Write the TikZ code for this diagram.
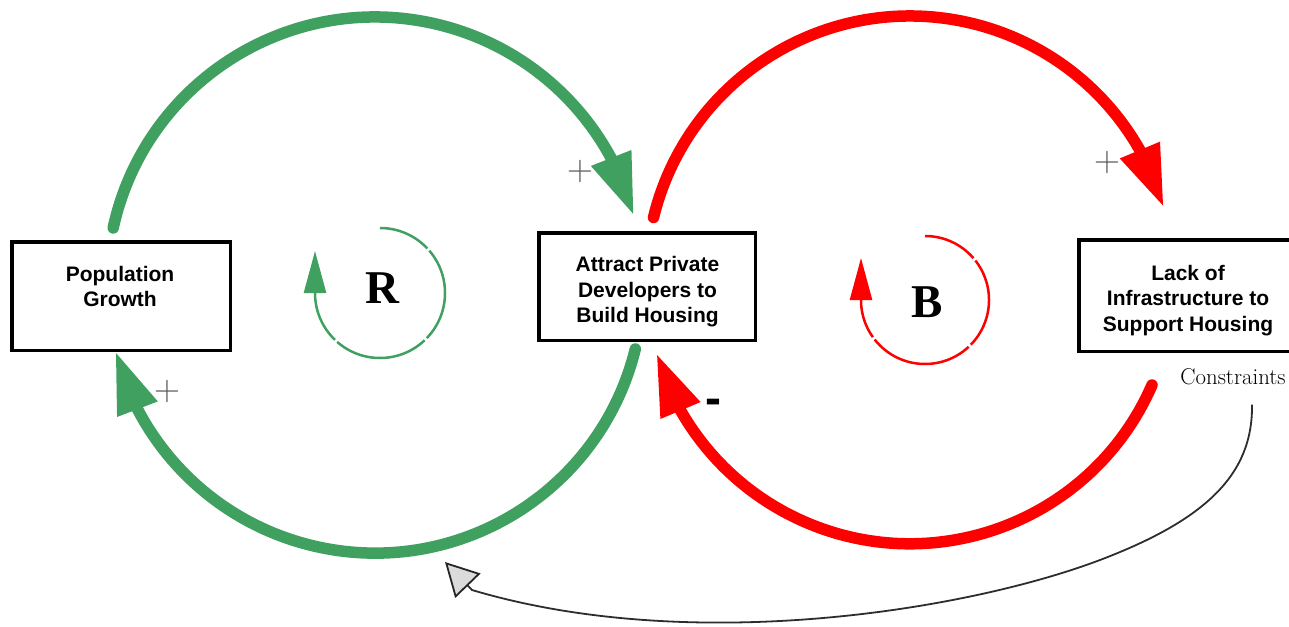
\documentclass[tikz,border=0pt]{standalone}
\usepackage{fontspec}
\newfontfamily\labelfont{Liberation Sans}
\newfontfamily\loopfont{Liberation Serif}
\usetikzlibrary{arrows.meta,bending,calc}

\definecolor{loopgreen}{RGB}{64,160,96}
\definecolor{loopred}{RGB}{255,0,0}
\definecolor{linkgray}{RGB}{45,45,45}

\tikzset{
  varbox/.style={draw=black, line width=3.5pt, fill=white, inner sep=0pt},
  varlabel/.style={font=\labelfont\bfseries\fontsize{21}{25.5}\selectfont, align=center, inner sep=0pt},
  bigarc/.style={line width=11.5pt, line cap=round, -{Triangle[length=62pt,width=40pt,flex]}},
  loopmark/.style={line width=2.5pt, -{Triangle[length=42pt,width=22pt,flex]}},
  loopsym/.style={font=\loopfont\bfseries\fontsize{47}{47}\selectfont, inner sep=0pt, anchor=base},
  polarity/.style={font=\fontsize{36}{36}\selectfont, text=black!65, inner sep=0pt},
  negpolarity/.style={font=\labelfont\bfseries\fontsize{48}{48}\selectfont, inner sep=0pt, anchor=base},
  linknote/.style={font=\fontsize{22.8}{26}\selectfont, inner sep=0pt, anchor=base, text=black},
  constraintlink/.style={draw=linkgray, line width=1.8pt,
    -{Triangle[length=33pt,width=35pt,fill=black!14,color=black!85]}}
}

\begin{document}
\begin{tikzpicture}[x=1pt,y=1pt]
\useasboundingbox (0,0) rectangle (1289,-626);

% variables
\node[varbox, minimum width=218.5pt, minimum height=108.5pt] (pop) at (121,-296) {};
\node[varbox, minimum width=216.5pt, minimum height=107.5pt] (dev) at (647,-286.5) {};
\node[varbox, minimum width=214.5pt, minimum height=111.5pt] (lack) at (1186,-295.5) {};

\node[varlabel] (popl) at (120,-286.5) {Population\\Growth};
\node[varlabel] (devl) at (647.5,-292) {Attract Private\\Developers to\\Build Housing};
\node[varlabel] (lackl) at (1188,-300.5) {Lack of\\Infrastructure to\\Support Housing};

% reinforcing loop (green)
\draw[bigarc, loopgreen] ($(pop.north)+(-7.8,12.1)$) arc[start angle=167.7, end angle=15, radius=268];
\draw[bigarc, loopgreen] ($(dev.south)+(-11.7,-7)$) arc[start angle=-13.8, end angle=-165.7, radius=268];

% balancing loop (red)
\draw[bigarc, loopred] ($(dev.north)+(6.5,13.5)$) arc[start angle=166.3, end angle=16, radius=264];
\draw[bigarc, loopred] ($(lack.south)+(-34,-32)$) arc[start angle=-23.5, end angle=-163.8, radius=264];

% loop markers
\draw[loopmark, loopgreen, dash pattern=on 53pt off 3pt on 96pt off 3pt on 96pt off 3pt on 300pt off 1pt]
  (380,-228) arc[start angle=90, end angle=-180, radius=65] -- ++(0,42);
\node[loopsym] (rsym) at (382,-303) {R};

\draw[loopmark, loopred, dash pattern=on 55pt off 3pt on 92pt off 3pt on 106pt off 3pt on 300pt off 1pt]
  (925,-236) arc[start angle=90, end angle=-180, radius=64] -- ++(0,42);
\node[loopsym] (bsym) at (927,-317) {B};

% link polarities
\node[polarity] (pol1) at (580,-172) {+};
\node[polarity] (pol2) at (1107,-163) {+};
\node[polarity] (pol3) at (167,-392) {+};
\node[negpolarity] (pol4) at (713,-414) {-};

% constraints link
\node[linknote] (cons) at (1233,-384) {Constraints};
\coordinate (ctip) at (445,-562);
\draw[constraintlink] ($(cons.south)+(19,-20)$)
  .. controls (1253,-475) and (1205,-520) .. (1100,-560)
  .. controls (965,-611) and (690,-655) .. (472,-590) -- (ctip);
\end{tikzpicture}
\end{document}
